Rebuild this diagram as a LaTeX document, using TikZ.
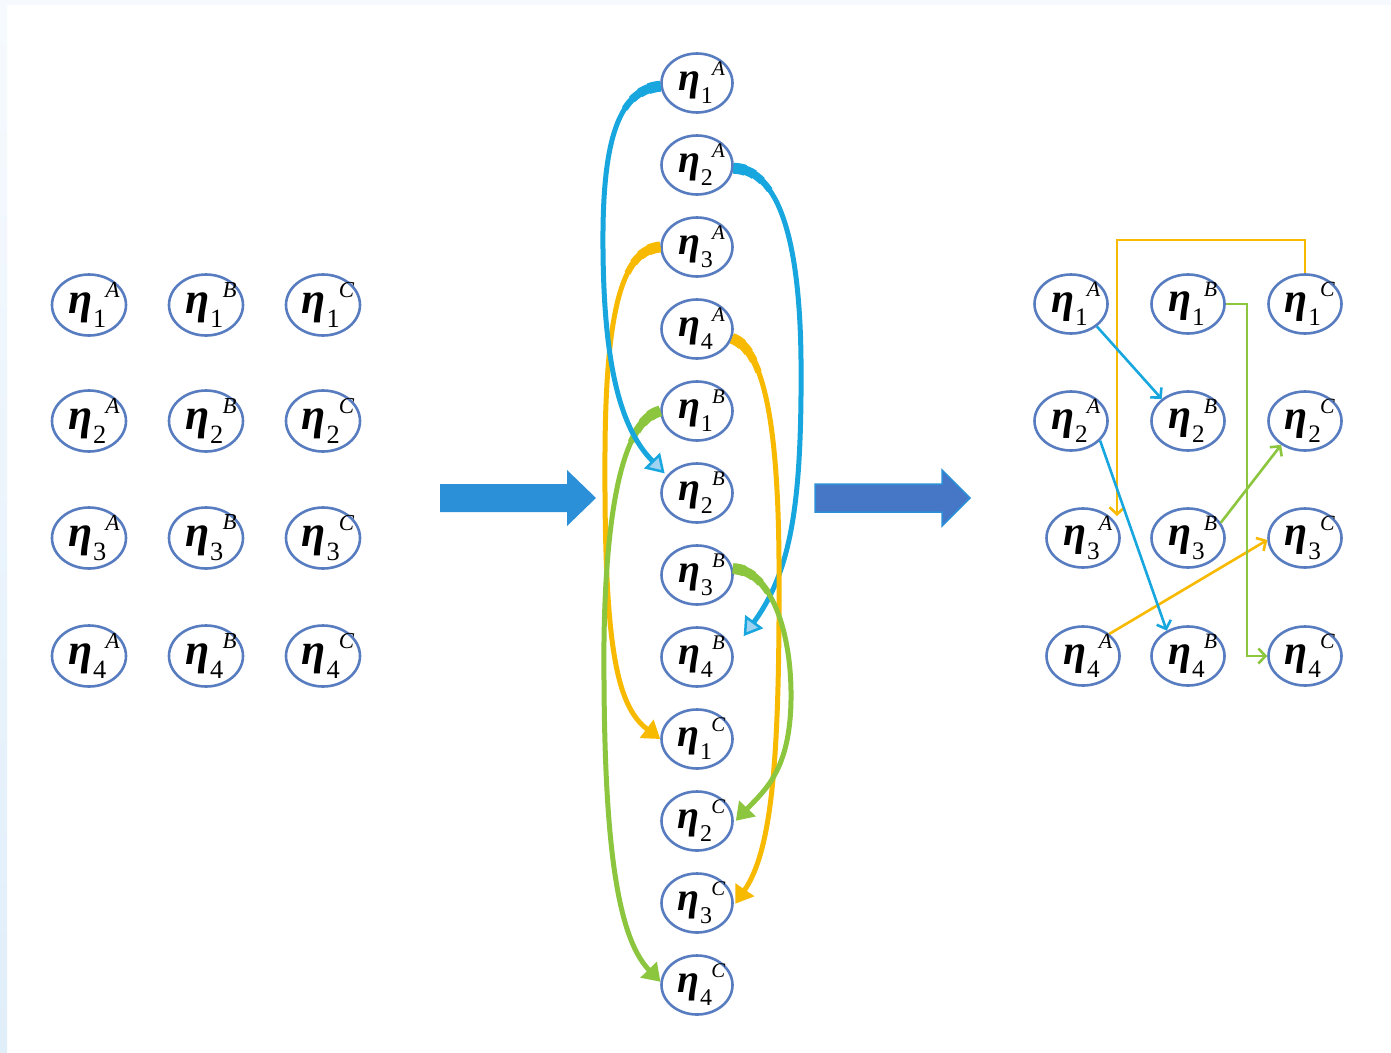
\documentclass[tikz,border=0pt]{standalone}
\usepackage{fontspec}
\setmainfont{Liberation Serif}
\usetikzlibrary{shapes.geometric,arrows.meta}

\definecolor{ellline}{RGB}{88,124,192}
\definecolor{arcblue}{RGB}{24,166,222}
\definecolor{arcyellow}{RGB}{247,186,0}
\definecolor{arcgreen}{RGB}{140,198,63}
\definecolor{bigblue}{RGB}{44,144,216}
\definecolor{bigslate}{RGB}{70,118,198}
\definecolor{headfill}{RGB}{160,210,242}
\definecolor{edgetop}{RGB}{246,250,254}
\definecolor{edgebot}{RGB}{224,238,250}

% eta with a lowered index and a raised letter
\newcommand\etalab[2]{\hspace*{0.22em}\bfseries\itshape η\mdseries\upshape\kern0.02em\raisebox{-0.33em}{\scalebox{0.6}{#1}}\itshape\kern-0.02em\raisebox{0.37em}{\scalebox{0.52}{#2}}}

% curved arrow with a thick, tapering start
\newcommand\bentarrow[3]{%
  \draw[#1, line width=11pt, dash pattern=on 12pt off 3000pt] #3;
  \draw[#1, line width=9.5pt, dash pattern=on 22pt off 3000pt] #3;
  \draw[#1, line width=8pt, dash pattern=on 32pt off 3000pt] #3;
  \draw[#1, line width=6.5pt, dash pattern=on 44pt off 3000pt] #3;
  \draw[#1, line width=5pt, #2] #3;}

\tikzset{
  eta/.style={ellipse, draw=ellline, line width=2.6pt, fill=white,
    minimum width=72pt, minimum height=60pt, inner xsep=-14pt, inner ysep=-8pt},
  bigeta/.style={eta, minimum width=74pt, minimum height=61pt,
    font=\fontsize{44}{44}\selectfont},
  mideta/.style={eta, minimum width=71pt, minimum height=59pt,
    font=\fontsize{40}{40}\selectfont},
  righteta/.style={eta, minimum width=73pt, minimum height=59pt,
    font=\fontsize{42}{42}\selectfont},
  solidhead/.style={-{Triangle[length=17pt,width=22pt]}},
  hollowhead/.style={-{Triangle[length=18pt,width=22pt,line width=2.5pt,fill=headfill]}},
  link/.style={line width=2.6pt, -{Straight Barb[length=7pt,width=15pt]}},
}

\begin{document}
\begin{tikzpicture}[x=1pt,y=-1pt]
\useasboundingbox (0,0) rectangle (1391,1052);
\fill[white] (0,0) rectangle (1391,1052);
% pale frame along the top and left edges
\fill[edgetop] (0,0) rectangle (1391,5);
\shade[top color=edgetop, bottom color=edgebot] (0,0) rectangle (7,1052);

% ---- left grid ----
\foreach \c/\x in {A/89,B/206,C/323}{
  \foreach \r/\y in {1/305,2/421,3/538,4/656}{
    \node[bigeta] (l\c\r) at (\x,\y) {\etalab{\r}{\c}};
  }
}

% ---- block arrows ----
\fill[bigblue] (440,484) -- (567,484) -- (567,470) -- (596,498) -- (567,526)
  -- (567,512) -- (440,512) -- cycle;
\filldraw[fill=bigslate, draw=bigblue, line width=1.5pt]
  (815,484) -- (942,484) -- (942,470) -- (970,498) -- (942,526)
  -- (942,512) -- (815,512) -- cycle;

% ---- middle column ----
\foreach \c/\k in {A/0,B/4,C/8}{
  \foreach \r in {1,2,3,4}{
    \node[mideta] (m\c\r) at (697,{83+82*(\k+\r-1)}) {\etalab{\r}{\c}};
  }
}

% left-hand arcs
\bentarrow{arcyellow}{solidhead}{(mA3.180) .. controls (625,250) and (606,300) .. (605,450)
  .. controls (604,640) and (615,705) .. (mC1.180)}
\bentarrow{arcgreen}{solidhead}{(mB1.180) .. controls (625,420) and (606,500) .. (604,640)
  .. controls (603,830) and (615,935) .. (mC4.175)}
\bentarrow{arcblue}{hollowhead, shorten >=3pt}{(mA1.185) .. controls (615,90) and (602,150) .. (603,250)
  .. controls (604,370) and (622,430) .. (mB2.150)}

% right-hand arcs
\bentarrow{arcblue}{hollowhead, shorten >=18pt}{(mA2.-5) .. controls (785,170) and (800,260) .. (801,360)
  .. controls (802,500) and (792,570) .. (mB4.10)}
\bentarrow{arcyellow}{solidhead, shorten >=3pt}{(mA4.-15) .. controls (765,350) and (778,430) .. (779,560)
  .. controls (780,760) and (772,850) .. (mC3.-5)}
\bentarrow{arcgreen}{solidhead, shorten >=3pt}{(mB3.10) .. controls (770,570) and (792,630) .. (791,700)
  .. controls (790,770) and (765,790) .. (mC2.-3)}

% ---- right grid ----
\foreach \c/\r/\x/\y in {A/1/1071/304, A/2/1071/421, A/3/1083/538, A/4/1083/656,
  B/1/1188/304, B/2/1188/421, B/3/1188/538, B/4/1188/656,
  C/1/1305/304, C/2/1305/421, C/3/1305/538, C/4/1305/656}{
  \node[righteta] (r\c\r) at (\x,\y) {\etalab{\r}{\c}};
}
\coordinate (ycorner) at (1117,240);
\coordinate (yend) at (1117,516);
\coordinate (gcorner) at (1247,304);

\draw[link, arcyellow] (rC1.north) |- (ycorner) -- (yend);
\draw[link, arcyellow] (rA4.40) -- (rC3.183);
\draw[link, arcgreen] (rB1.east) -- (gcorner) |- (rC4.west);
\draw[link, arcgreen] (rB3.25) -- (rC2.225);
\draw[link, arcblue] (rA1.-41) -- (rB2.140);
\draw[link, arcblue] (rA2.-34) -- (rB4.130);
\end{tikzpicture}
\end{document}
